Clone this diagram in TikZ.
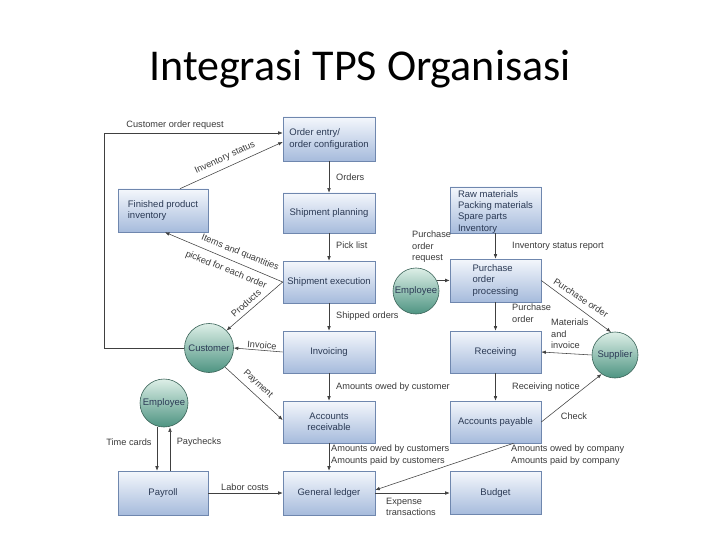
\documentclass[tikz,border=0pt]{standalone}
\usepackage{fontspec}
\setmainfont{Liberation Sans}
\newfontfamily\titlefont{Carlito}
\usetikzlibrary{arrows.meta}
\definecolor{boxdraw}{HTML}{6F87AE}
\definecolor{boxtop}{HTML}{F4F7FC}
\definecolor{boxbot}{HTML}{A6BBDC}
\definecolor{boxtext}{HTML}{2B3A55}
\definecolor{circdraw}{HTML}{3A6358}
\definecolor{circtop}{HTML}{DDEFE7}
\definecolor{circbot}{HTML}{4E9482}
\definecolor{lbltext}{HTML}{3A3A3A}
\definecolor{linecol}{HTML}{404040}
\tikzset{
  box/.style={draw=boxdraw, line width=0.6pt, top color=boxtop, bottom color=boxbot,
    align=left, font=\fontsize{9.5}{11.5}\selectfont, text=boxtext, inner sep=2pt,
    minimum width=92pt, minimum height=42pt},
  circ/.style={circle, draw=circdraw, line width=0.6pt, top color=circtop, bottom color=circbot,
    font=\fontsize{9.5}{11.5}\selectfont, text=boxtext, inner sep=0pt, minimum size=46pt},
  lbl/.style={font=\fontsize{9.2}{11.4}\selectfont, text=lbltext, inner sep=0pt, align=left},
  arr/.style={draw=linecol, line width=0.55pt, -{Latex[length=4.5pt,width=3.6pt]}},
  ln/.style={draw=linecol, line width=0.55pt}
}
\begin{document}
\begin{tikzpicture}[x=1pt,y=-1pt]
\useasboundingbox (0,0) rectangle (720,540);
\fill[white] (0,0) rectangle (720,540);

\node[font=\titlefont\fontsize{44}{52}\selectfont] (title) at (360,69) {Integrasi TPS Organisasi};

% boxes
\node[box, minimum height=44pt] (oe) at (329,139) {Order entry/\\order configuration};
\node[box, minimum width=90pt, minimum height=43pt] (fpi) at (163,210.5) {Finished product\\inventory};
\node[box, minimum height=40pt] (sp) at (329,213) {Shipment planning};
\node[box] (se) at (329,282) {Shipment execution};
\node[box] (inv) at (329,352) {Invoicing};
\node[box, align=center] (ar) at (329,422) {Accounts\\receivable};
\node[box, minimum height=44pt] (gl) at (329,493) {General ledger};
\node[box, minimum width=91pt, minimum height=46pt, inner ysep=0pt, font=\fontsize{9.5}{11.3}\selectfont] (rm) at (495.5,210) {\rule{0pt}{10.5pt}Raw materials\\Packing materials\\Spare parts\\Inventory};
\node[box, minimum width=91pt, minimum height=43pt, inner ysep=0pt] (pop) at (495.5,280.5) {Purchase\\order\\processing};
\node[box, minimum width=91pt] (rec) at (495.5,352) {Receiving};
\node[box, minimum width=91pt] (ap) at (495.5,422) {Accounts payable};
\node[box, minimum width=91pt, minimum height=43pt] (bud) at (495.5,493) {Budget};
\node[box, minimum width=90pt, minimum height=44pt] (pay) at (163,493) {Payroll};

% circles
\node[circ, minimum size=49pt] (cust) at (209,348) {Customer};
\node[circ] (emp1) at (416,291) {Employee};
\node[circ] (sup) at (615,355) {Supplier};
\node[circ, minimum size=48pt] (emp2) at (164,403) {Employee};

% customer order request
\coordinate (c1) at (104,348);
\coordinate (c2) at (104,133);
\draw[arr] (cust.west) -- (c1) -- (c2) -- (oe.west |- c2);
\node[lbl] (l1) at (175,125) {Customer order request};

% inventory status
\draw[arr] ([xshift=17pt]fpi.north) -- ([yshift=-3pt]oe.west);
\node[lbl, rotate=24.5] (l2) at (225,158) {Inventory status};

% middle column
\draw[arr] (oe.south) -- (sp.north);
\node[lbl, anchor=west] (l3) at (336,177) {Orders};
\draw[arr] (sp.south) -- (se.north);
\node[lbl, anchor=west] (l4) at (336,245) {Pick list};
\draw[arr] (se.south) -- (inv.north);
\node[lbl, anchor=west] (l5) at (336,316) {Shipped orders};
\draw[arr] (inv.south) -- (ar.north);
\node[lbl, anchor=west] (l6) at (336,387) {Amounts owed by customer};
\draw[arr] (ar.south) -- (gl.north);
\node[lbl, anchor=north west] (l7) at (331,445) {Amounts owed by customers\\Amounts paid by customers};

% shipment execution to inventory and customer
\draw[arr] (se.west) -- ([xshift=2pt]fpi.south);
\node[lbl, rotate=-22] (l8) at (240,253) {Items and quantities};
\node[lbl, rotate=-22] (l9) at (226,270) {picked for each order};
\draw[arr] (se.west) -- (cust.45);
\node[lbl, rotate=42] (l10) at (246,303) {Products};
\draw[arr] (inv.west) -- (cust.east);
\node[lbl, rotate=-5] (l11) at (262,345) {Invoice};
\draw[arr] (cust.-50) -- ([yshift=2pt]ar.west);
\node[lbl, rotate=-43] (l12) at (258,384) {Payment};

% payroll
\draw[arr] ([xshift=-7pt]emp2.south) -- ([xshift=-7pt]emp2.south |- pay.north);
\node[lbl] (l13) at (129,442) {Time cards};
\draw[arr] ([xshift=7pt]pay.north) -- ([xshift=7pt]pay.north |- emp2.south);
\node[lbl] (l14) at (199,442) {Paychecks};
\draw[arr] (pay.east) -- (gl.west);
\node[lbl] (l15) at (245,487) {Labor costs};

% right column
\draw[arr] (rm.south) -- (pop.north);
\node[lbl, anchor=west] (l16) at (512,246) {Inventory status report};
\draw[arr] (emp1.27) -- (emp1.27 -| pop.west);
\node[lbl, anchor=north west] (l17) at (412,231) {Purchase\\order\\request};
\draw[arr] (pop.east) -- (sup.100);
\node[lbl, rotate=-33] (l18) at (581,298) {Purchase order};
\draw[arr] (pop.south) -- (rec.north);
\node[lbl, anchor=north west] (l19) at (512,304) {Purchase\\order};
\draw[arr] (sup.west) -- (rec.east);
\node[lbl, anchor=north west] (l20) at (551,319) {Materials\\and\\invoice};
\draw[arr] (rec.south) -- (ap.north);
\node[lbl, anchor=west] (l21) at (512,387) {Receiving notice};
\draw[arr] (ap.east) -- (sup.235);
\node[lbl] (l22) at (574,416) {Check};
\draw[arr] ([xshift=18pt]ap.south) -- ([yshift=3pt]gl.east);
\node[lbl, anchor=north west] (l23) at (511,445) {Amounts owed by company\\Amounts paid by company};
\draw[arr] (gl.east) -- (bud.west);
\node[lbl, anchor=north west] (l24) at (386,498) {Expense\\transactions};
\end{tikzpicture}
\end{document}
